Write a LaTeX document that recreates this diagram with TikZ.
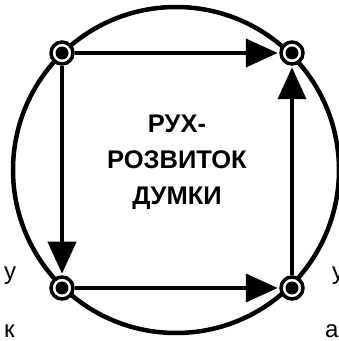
\documentclass[tikz,border=0pt]{standalone}
\usepackage{fontspec}
\setmainfont{Liberation Sans}
\usetikzlibrary{arrows.meta, positioning}
\tikzset{
	joint/.style={circle, draw, fill=white, line width=3.5pt, minimum size=22pt, inner sep=0pt,
		path picture={\fill[black] (path picture bounding box.center) circle (6.5pt);}}
}
\tikzset{
	flow/.style={line width=4pt, shorten >=1.5pt, -{Triangle[length=32pt, width=28pt]}}
}
\tikzset{
	sidetext/.style={font=\fontsize{24}{24}\selectfont, inner sep=0pt, anchor=base west}
}
\begin{document}
\begin{tikzpicture}[x=1pt, y=1pt]
  \useasboundingbox (0,0) rectangle (339,341);
  \draw[line width=4.5pt] (176,171) circle (163);
  \node[joint] (tl) at (62,288) {};
  \node[joint] (tr) at (292,288) {};
  \node[joint] (bl) at (62,53) {};
  \node[joint] (br) at (292,53) {};
  \draw[flow] (tl) -- (tr);
  \draw[flow] (tl) -- (bl);
  \draw[flow] (bl) -- (br);
  \draw[flow] (br) -- (tr);
  \node[align=center, font=\fontsize{25.5}{36}\selectfont\bfseries] (title) at (177,179) {РУХ-\\РОЗВИТОК\\ДУМКИ};
  \node[sidetext] (lu) at (4,61) {у};
  \node[sidetext] (lk) at (4,4) {к};
  \node[sidetext] (ru) at (332,61) {у};
  \node[sidetext] (ra) at (325,4) {а};
\end{tikzpicture}
\end{document}
